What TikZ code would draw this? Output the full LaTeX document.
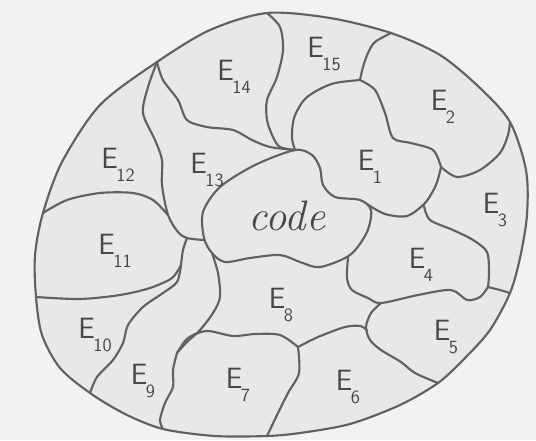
\documentclass[tikz,border=0pt]{standalone}
\usepackage{tikz}
\newcommand{\regname}[1]{E\kern-1pt\raisebox{-0.45em}{\fontsize{14}{14}\selectfont #1}}

\begin{document}
\begin{tikzpicture}[x=0.75pt,y=-0.75pt,
  edge/.style={draw=black!62, line width=1.6pt, line join=round, line cap=round},
  lbl/.style={text=black!72, font=\sffamily\fontsize{22}{24}\selectfont, inner sep=0pt}]
\useasboundingbox (0,0) rectangle (536,440);
\fill[black!5] (0,0) rectangle (536,440);
\draw[edge, fill=black!9] plot[smooth cycle] coordinates {(267,13) (330,18) (391,33) (440,55) (480,88) (510,122) (526,170) (527,215) (520,258) (510,293) (490,330) (465,358) (438,383) (400,405) (350,424) (300,433) (267,436) (215,436) (163,429) (125,414) (90,393) (60,368) (42,335) (36,297) (35,255) (43,213) (62,162) (100,105) (157,62) (210,30)};
\draw[edge] plot[smooth cycle] coordinates {(295,150) (312,155) (320,168) (323,185) (335,197) (360,200) (371,210) (367,232) (350,255) (320,267) (300,262) (280,255) (250,258) (225,262) (212,253) (204,238) (203,212) (220,187) (255,165)};
\draw[edge] plot[smooth] coordinates {(157,62) (148,87) (143,113) (155,140) (162,160) (162,185) (168,215) (178,232) (187,238) (204,240)};
\draw[edge] plot[smooth] coordinates {(157,62) (163,80) (178,100) (187,120) (207,127) (233,130) (252,140) (270,147) (295,150)};
\draw[edge] plot[smooth] coordinates {(267,13) (280,27) (283,50) (277,77) (267,100) (267,120) (273,137) (280,147) (295,150)};
\draw[edge] plot[smooth] coordinates {(295,150) (292,138) (294,118) (304,100) (318,90) (335,83) (360,80)};
\draw[edge] plot[smooth] coordinates {(391,33) (375,42) (368,53) (363,67) (360,80)};
\draw[edge] plot[smooth] coordinates {(360,80) (375,90) (385,113) (393,138) (411,143) (433,150) (441,167)};
\draw[edge] plot[smooth] coordinates {(441,167) (457,177) (480,170) (500,153) (508,135) (510,122)};
\draw[edge] plot[smooth] coordinates {(441,167) (436,185) (425,203) (407,216) (385,214) (367,204)};
\draw[edge] plot[smooth] coordinates {(424,206) (430,220) (453,230) (473,240) (487,252) (489,273) (488,287)};
\draw[edge] plot[smooth] coordinates {(488,287) (500,290) (510,293)};
\draw[edge] plot[smooth] coordinates {(348,258) (347,278) (352,290) (368,298) (381,303) (418,295) (451,290) (467,300) (480,297) (488,287)};
\draw[edge] plot[smooth] coordinates {(381,303) (371,313) (366,327) (370,340) (381,350) (401,362) (415,373) (438,383)};
\draw[edge] plot[smooth] coordinates {(298,347) (318,337) (345,327) (360,326) (367,330)};
\draw[edge] plot[smooth] coordinates {(298,347) (299,373) (288,393) (278,413) (267,436)};
\draw[edge] plot[smooth] coordinates {(177,353) (188,338) (207,331) (233,336) (255,334) (280,335) (298,347)};
\draw[edge] plot[smooth] coordinates {(177,353) (173,370) (173,387) (165,403) (160,420) (163,429)};
\draw[edge] plot[smooth] coordinates {(212,253) (218,273) (220,297) (213,313) (200,330) (187,342) (177,353)};
\draw[edge] plot[smooth] coordinates {(187,238) (183,250) (181,265)};
\draw[edge] plot[smooth] coordinates {(181,265) (172,278) (150,288) (120,295) (80,299) (36,297)};
\draw[edge] plot[smooth] coordinates {(181,265) (177,282) (163,293) (143,307) (128,325) (123,343) (113,360) (97,377) (90,393)};
\draw[edge] plot[smooth] coordinates {(43,213) (67,200) (100,193) (133,193) (153,200) (168,215)};
\node[lbl] (e1) at (370,167) {\regname{1}};
\node[lbl] (e2) at (443,107) {\regname{2}};
\node[lbl] (e3) at (495,210) {\regname{3}};
\node[lbl] (e4) at (421,265) {\regname{4}};
\node[lbl] (e5) at (446,337) {\regname{5}};
\node[lbl] (e6) at (348,387) {\regname{6}};
\node[lbl] (e7) at (238,385) {\regname{7}};
\node[lbl] (e8) at (281,305) {\regname{8}};
\node[lbl] (e9) at (143,381) {\regname{9}};
\node[lbl] (e10) at (95,335) {\regname{10}};
\node[lbl] (e11) at (115,251) {\regname{11}};
\node[lbl] (e12) at (118,165) {\regname{12}};
\node[lbl] (e13) at (207,170) {\regname{13}};
\node[lbl] (e14) at (234,77) {\regname{14}};
\node[lbl] (e15) at (324,54) {\regname{15}};
\node[lbl, font=\itshape\fontsize{32}{34}\selectfont] (code) at (287,216) {code};
\end{tikzpicture}
\end{document}
